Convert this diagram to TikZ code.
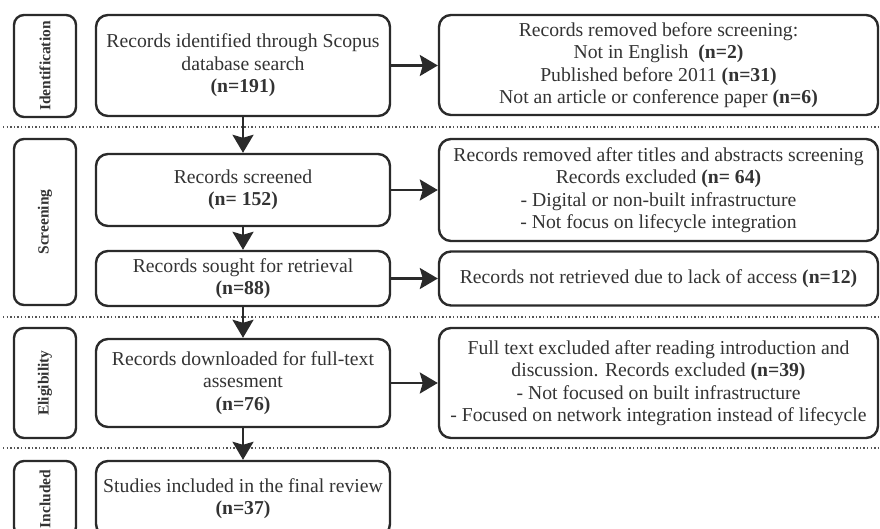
\documentclass[tikz,border=0pt]{standalone}
\usepackage{fontspec}
\setmainfont{Liberation Serif}
\usetikzlibrary{arrows.meta}
\definecolor{ink}{HTML}{2A2A2A}
\definecolor{txt}{HTML}{333333}
\definecolor{dotc}{HTML}{555555}
\begin{document}
\begin{tikzpicture}[x=1pt,y=-1pt,
  box/.style={draw=ink, line width=2.4pt, rounded corners=12pt, align=center, inner sep=0pt,
    font=\fontsize{19.7}{22.4}\selectfont, text=txt},
  mainbox/.style={box, minimum width=294pt},
  rightbox/.style={box, minimum width=439pt},
  lab/.style={draw=ink, line width=2.4pt, rounded corners=10pt, inner sep=0pt, rotate=90,
    minimum height=62pt, font=\bfseries\fontsize{15.5}{18}\selectfont, text=txt},
  arr/.style={draw=ink, line width=2.4pt, -{Stealth[length=18pt,width=21pt,inset=3pt]}},
  sep/.style={draw=dotc, line width=2pt, dash pattern=on 1.3pt off 2.3pt}]
\useasboundingbox (0,0) rectangle (880,529);
\clip (0,0) rectangle (880,529);

% separators
\coordinate (s1a) at (3,127.5); \coordinate (s1b) at (880,127.5);
\coordinate (s2a) at (3,317);   \coordinate (s2b) at (880,317);
\coordinate (s3a) at (3,448);   \coordinate (s3b) at (880,448);
\draw[sep] (s1a) -- (s1b);
\draw[sep] (s2a) -- (s2b);
\draw[sep] (s3a) -- (s3b);

% phase labels
\node[lab, minimum width=102pt] (lid) at (45,66) {Identification};
\node[lab, minimum width=166pt] (lsc) at (45,222) {Screening};
\node[lab, minimum width=110pt] (lel) at (45,383) {Eligibility};
\node[lab, minimum width=76pt]  (lin) at (45,499) {Included};

% main column
\node[mainbox, minimum height=101pt] (b1) at (243,65.5)
  {Records identified through Scopus\\database search\\\textbf{(n=191)}};
\node[mainbox, minimum height=72pt] (b2) at (243,190)
  {Records screened\\\textbf{(n= 152)}};
\node[mainbox, minimum height=55pt] (b3) at (243,278.5)
  {Records sought for retrieval\\\textbf{(n=88)}};
\node[mainbox, minimum height=88pt] (b4) at (243,383)
  {Records downloaded for full-text\\assesment\\\textbf{(n=76)}};
\node[mainbox, minimum height=75pt] (b5) at (243,498.5)
  {Studies included in the final review\\\textbf{(n=37)}};

% right column
\node[rightbox, minimum height=100pt] (r1) at (658.5,65)
  {Records removed before screening:\\Not in English\ \ \textbf{(n=2)}\\Published before 2011 \textbf{(n=31)}\\Not an article or conference paper \textbf{(n=6)}};
\node[rightbox, minimum height=102pt] (r2) at (658.5,190)
  {Records removed after titles and abstracts screening\\Records excluded \textbf{(n= 64)}\\- Digital or non-built infrastructure\\- Not focus on lifecycle integration};
\node[rightbox, minimum height=54pt] (r3) at (658.5,278.5)
  {Records not retrieved due to lack of access \textbf{(n=12)}};
\node[rightbox, minimum height=110pt] (r4) at (658.5,383)
  {Full text excluded after reading introduction and\\discussion. Records excluded \textbf{(n=39)}\\- Not focused on built infrastructure\\- Focused on network integration instead of lifecycle};

% arrows
\draw[arr] (b1) -- (b2);
\draw[arr] (b2) -- (b3);
\draw[arr] (b3) -- (b4);
\draw[arr] (b4) -- (b5);
\draw[arr] (b1.east) -- (b1.east -| r1.west);
\draw[arr] (b2.east) -- (b2.east -| r2.west);
\draw[arr] (b3.east) -- (b3.east -| r3.west);
\draw[arr] (b4.east) -- (b4.east -| r4.west);
\end{tikzpicture}
\end{document}
